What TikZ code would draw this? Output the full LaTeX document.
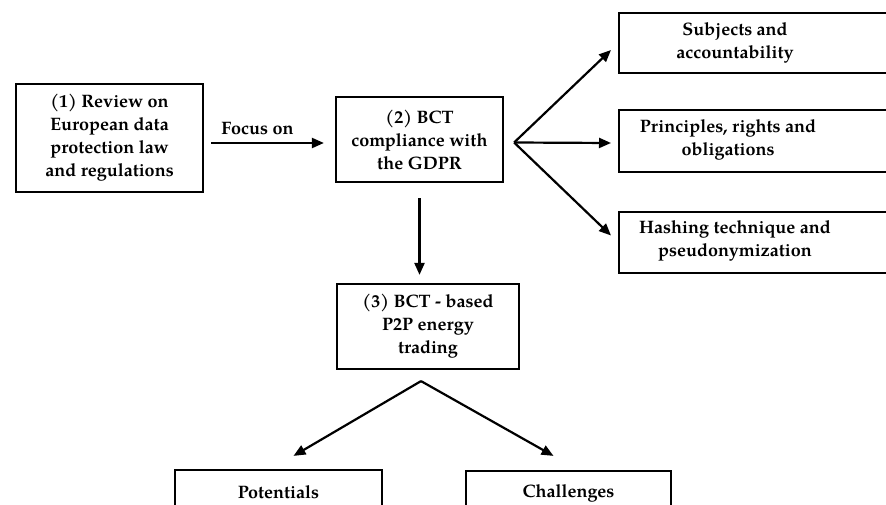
\documentclass[tikz,border=0pt]{standalone}
\usepackage{fontspec}
\setmainfont{TeX Gyre Pagella}
\usetikzlibrary{arrows.meta}

\begin{document}
\begin{tikzpicture}[x=1pt, y=-1pt, line width=2.2pt,
    >={Triangle[length=12pt,width=10pt]},
    box/.style={draw, inner sep=0pt},
    txt/.style={font=\bfseries\fontsize{18}{23}\selectfont, align=center}]
    \clip (0,0) rectangle (886,505);

    % Hauptkette
    \node[box, txt, minimum width=187, minimum height=108] (review) at (109.5,138) {(1) Review on\\European data\\protection law\\and regulations};
    \node[box, txt, minimum width=167, minimum height=85] (gdpr) at (419.5,139.5) {(2) BCT\\compliance with\\the GDPR};
    \node[box, txt, minimum width=182, minimum height=85] (trade) at (428,326.5) {(3) BCT - based\\P2P energy\\trading};

    % Kaesten rechts (am Rand abgeschnitten)
    \node[box, minimum width=300, minimum height=60, anchor=west] (subjbox) at (618,43) {};
    \node[txt] (subj) at ([xshift=117]subjbox.west) {Subjects and\\accountability};
    \node[box, minimum width=300, minimum height=62, anchor=west] (princbox) at (618,141) {};
    \node[txt] (princ) at ([xshift=110,yshift=1.5]princbox.west) {Principles, rights and\\obligations};
    \node[box, minimum width=300, minimum height=61, anchor=west] (hashbox) at (618,242.5) {};
    \node[txt] (hash) at ([xshift=117,yshift=1.5]hashbox.west) {Hashing technique and\\pseudonymization};

    % Kaesten unten
    \node[box, txt, minimum width=207, minimum height=44] (pot) at (278.5,492) {Potentials};
    \node[box, txt, minimum width=205, minimum height=44] (chal) at (568.5,493) {Challenges};

    % Pfeile
    \draw[->, shorten <=7pt, shorten >=11pt] ([yshift=-5]review.east) -- ([yshift=-5]review.east -| gdpr.west)
        node[midway, above, txt, xshift=-12pt, yshift=4pt] (focus) {Focus on};
    \coordinate (split) at ([xshift=10,yshift=-3]gdpr.east);
    \draw[->] (split) -- ([xshift=-7,yshift=-7]subjbox.west);
    \draw[->] (split) -- ([xshift=-7,yshift=-2]princbox.west);
    \draw[->] (split) -- ([xshift=-7,yshift=7]hashbox.west);
    \draw[->, shorten <=15pt, shorten >=8pt] (gdpr.south) -- (gdpr.south |- trade.north);
    \coordinate (apex) at ([xshift=-7,yshift=-11]trade.south);
    \draw[->] (apex) -- ([xshift=15,yshift=13]pot.north);
    \draw[->] (apex) -- ([xshift=-15,yshift=14]chal.north);

\end{tikzpicture}
\end{document}
